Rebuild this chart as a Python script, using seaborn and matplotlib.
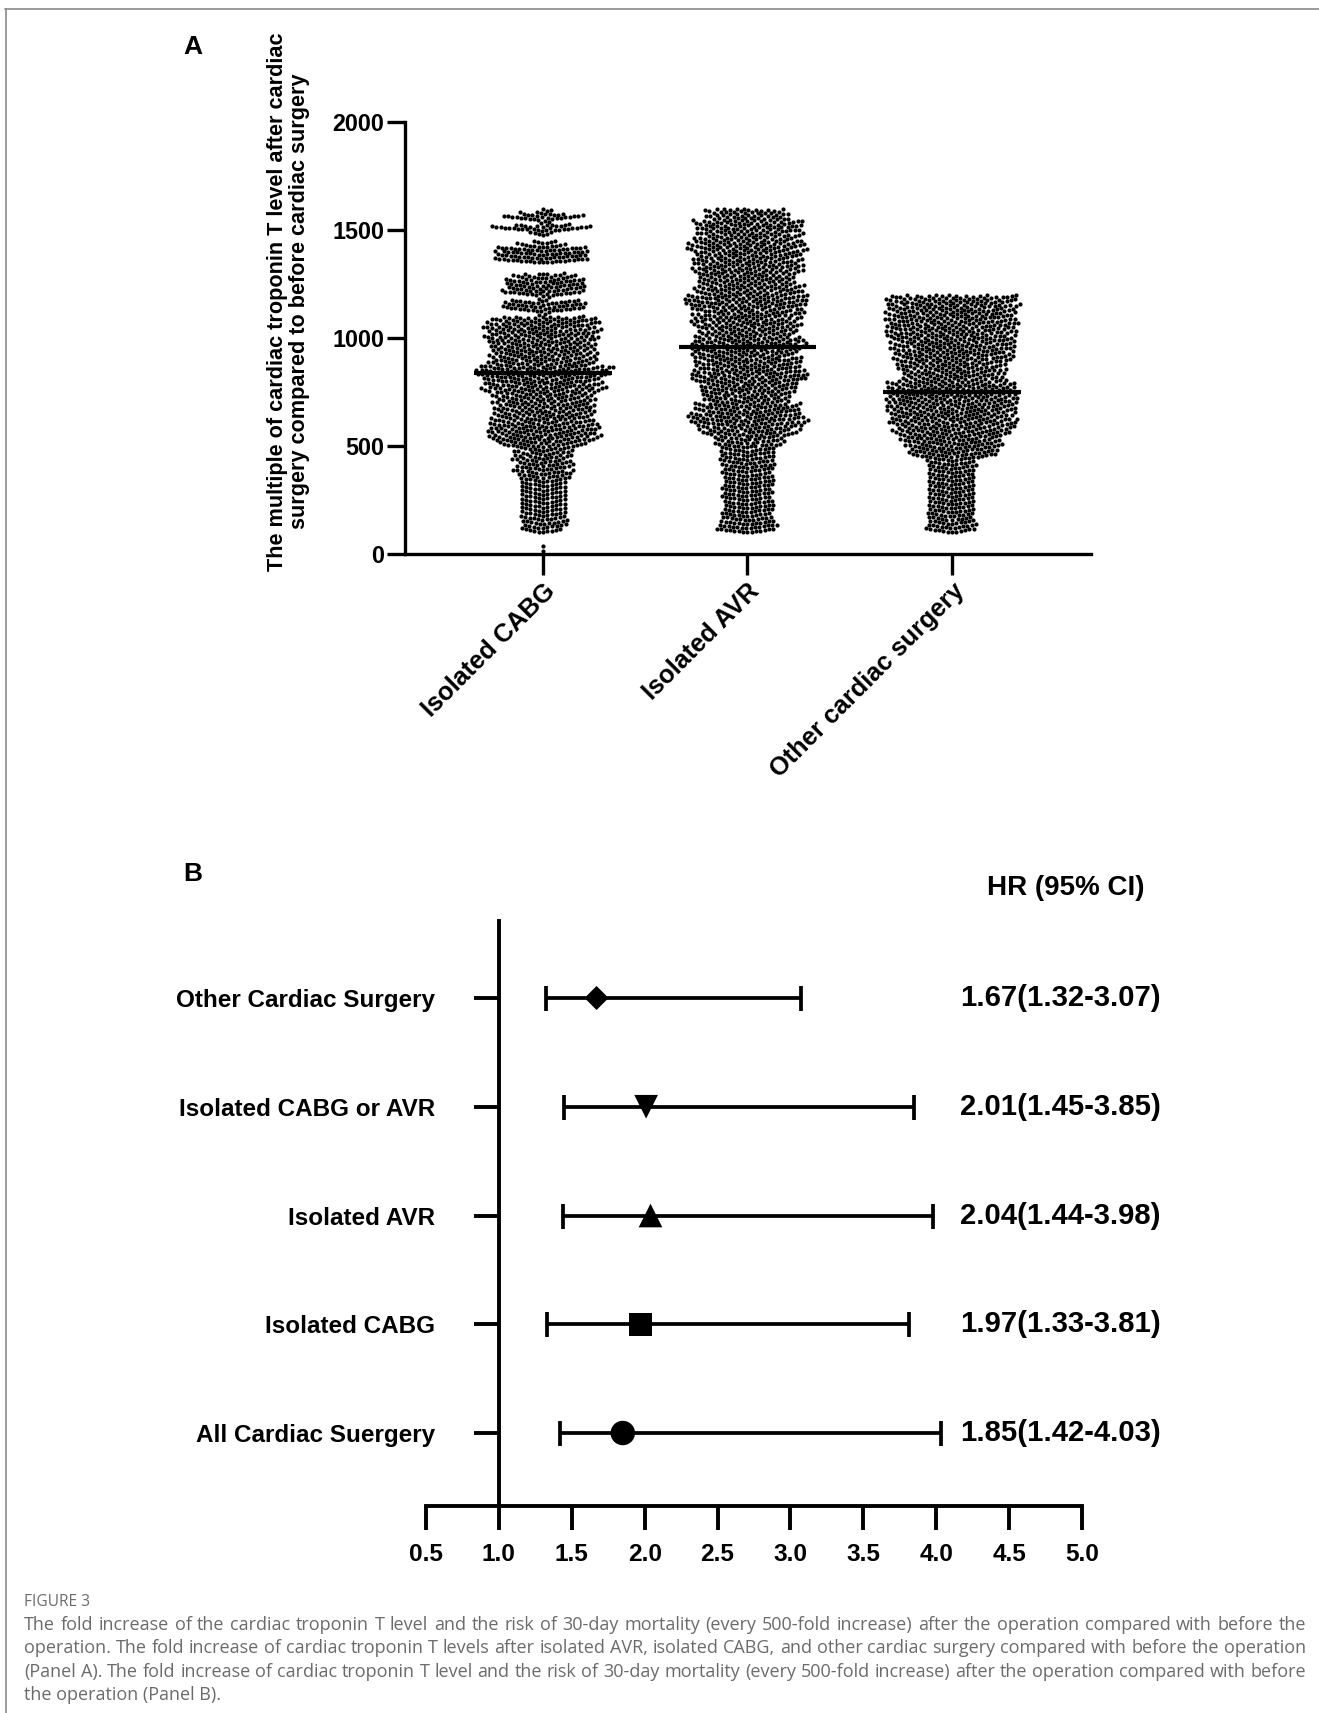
import warnings
warnings.filterwarnings("ignore")
import numpy as np
import pandas as pd
import matplotlib
matplotlib.use("Agg")
import matplotlib.pyplot as plt
import seaborn as sns
from matplotlib.lines import Line2D

# ---------------- Panel A data (counts per value bin) ----------------
categories = ["Isolated CABG", "Isolated AVR", "Other cardiac surgery"]

# Isolated CABG: 25-unit bins from 0 to 1600 (the group shows distinct bands)
cabg_bin_lower = list(range(0, 1600, 25))
cabg_bin_width = 25
cabg_counts = [1, 1, 0, 0, 13, 14, 14, 14, 14, 14,      # 0 - 250
               14, 14, 14, 14, 17, 18, 18, 18, 18, 18,   # 250 - 500
               28, 35, 35, 35, 31, 31, 31, 31, 31, 31,   # 500 - 750
               37, 37, 37, 42, 42, 33, 33, 33, 33, 33,   # 750 - 1000
               35, 35, 35, 35, 3, 27, 27, 5, 26, 26,     # 1000 - 1250
               26, 20, 0, 0, 30, 30, 30, 13, 0, 8,       # 1250 - 1500
               32, 5, 27, 6]                             # 1500 - 1600

# Isolated AVR and Other cardiac surgery: 50-unit bins from 0 to 1600
bin_lower = list(range(0, 1600, 50))
bin_width = 50
avr_counts = [0, 0, 38, 32, 32, 32, 32, 32, 34, 34,
              42, 60, 72, 66, 54, 60, 72, 66, 66, 70,
              60, 66, 66, 76, 66, 60, 68, 66, 72, 62,
              66, 50]
other_counts = [0, 0, 31, 30, 30, 30, 30, 30, 31, 58,
                63, 73, 78, 80, 82, 80, 63, 67, 75, 77,
                79, 80, 80, 80, 0, 0, 0, 0, 0, 0,
                0, 0]
group_means = [840, 960, 750]
y_ticks_A = [0, 500, 1000, 1500, 2000]
y_label_A = ("The multiple of cardiac troponin T level after cardiac\n"
             "surgery compared to before cardiac surgery")

# ---------------- Panel B data ----------------
forest_labels = ["Other Cardiac Surgery", "Isolated CABG or AVR", "Isolated AVR",
                 "Isolated CABG", "All Cardiac Suergery"]
hr = [1.67, 2.01, 2.04, 1.97, 1.85]
ci_low = [1.32, 1.45, 1.44, 1.33, 1.42]
ci_high = [3.07, 3.85, 3.98, 3.81, 4.03]
hr_text = ["1.67(1.32-3.07)", "2.01(1.45-3.85)", "2.04(1.44-3.98)",
           "1.97(1.33-3.81)", "1.85(1.42-4.03)"]
forest_markers = ["D", "v", "^", "s", "o"]
forest_sizes = [150, 290, 290, 275, 310]
x_ticks_B = [0.5, 1.0, 1.5, 2.0, 2.5, 3.0, 3.5, 4.0, 4.5, 5.0]

caption_title = "FIGURE 3"
caption_lines = [
    "The fold increase of the cardiac troponin T level and the risk of 30-day mortality (every 500-fold increase) after the operation compared with before the",
    "operation. The fold increase of cardiac troponin T levels after isolated AVR, isolated CABG, and other cardiac surgery compared with before the operation",
    "(Panel A). The fold increase of cardiac troponin T level and the risk of 30-day mortality (every 500-fold increase) after the operation compared with before",
    "the operation (Panel B).",
]

# ---------------- build long table from the histogram counts ----------------
rows = []
group_bins = [(cabg_bin_lower, cabg_bin_width, cabg_counts),
              (bin_lower, bin_width, avr_counts),
              (bin_lower, bin_width, other_counts)]
for cat, (lowers, bw, counts) in zip(categories, group_bins):
    for lo, c in zip(lowers, counts):
        for k in range(c):
            rows.append((cat, lo + (k + 0.5) * bw / c))
dfA = pd.DataFrame(rows, columns=["group", "value"])

dfB = pd.DataFrame({"label": forest_labels, "hr": hr, "lo": ci_low, "hi": ci_high,
                    "row": np.arange(len(forest_labels), 0, -1)})

# ---------------- style ----------------
sns.set_theme(style="white")
plt.rcParams["font.family"] = ["Liberation Sans", "DejaVu Sans"]
plt.rcParams["font.weight"] = "bold"
plt.rcParams["axes.edgecolor"] = "black"
plt.rcParams["xtick.color"] = "black"
plt.rcParams["ytick.color"] = "black"
plt.rcParams["text.color"] = "black"

W, H = 1319, 1713
fig = plt.figure(figsize=(W / 100, H / 100), dpi=100)
fig.patch.set_facecolor("white")


def fx(px):
    return px / W


def fy(py):
    return 1 - py / H


# ---------------- Panel A ----------------
axA = fig.add_axes([fx(405), fy(554), (1091 - 405) / W, (554 - 122) / H])
axA.set_xlim(-0.675, 2.68)
axA.set_ylim(0, 2000)
sns.swarmplot(data=dfA, x="group", y="value", order=categories, color="black",
              size=3.0, linewidth=0, ax=axA)
axA.set_xlim(-0.675, 2.68)
axA.set_ylim(0, 2000)
axA.hlines(group_means, np.arange(3) - 0.337, np.arange(3) + 0.337,
           color="black", lw=3.0, zorder=5)
for s in ["top", "right"]:
    axA.spines[s].set_visible(False)
for s in ["left", "bottom"]:
    axA.spines[s].set_linewidth(2.4)
    axA.spines[s].set_color("black")
axA.set_yticks(y_ticks_A)
axA.set_yticklabels([str(v) for v in y_ticks_A], fontsize=16.8, fontweight="bold")
axA.set_xticks(range(3))
axA.set_xticklabels(categories, fontsize=18.3, fontweight="bold",
                    rotation=45, ha="right", rotation_mode="anchor")
axA.tick_params(axis="y", direction="out", length=13, width=2.4, pad=2, left=True)
axA.tick_params(axis="x", direction="out", length=15, width=2.4, pad=3, bottom=True)
axA.set_xlabel("")
axA.set_ylabel("")
fig.text(fx(288.5), fy(301.5), y_label_A, rotation=90, ha="center", va="center",
         multialignment="center", fontsize=15.6, fontweight="bold", linespacing=1.1)
fig.text(fx(193), fy(47), "A", fontsize=19, fontweight="bold", ha="center", va="center")

# ---------------- Panel B ----------------
axB = fig.add_axes([fx(426), fy(1506), (1082 - 426) / W, (1506 - 921) / H])
axB.errorbar(dfB["hr"], dfB["row"], xerr=[dfB["hr"] - dfB["lo"], dfB["hi"] - dfB["hr"]],
             fmt="none", ecolor="black", elinewidth=2.7, capsize=9, capthick=2.7, zorder=2)
sns.scatterplot(data=dfB, x="hr", y="row", style="label",
                markers=dict(zip(forest_labels, forest_markers)),
                size="label", sizes=dict(zip(forest_labels, forest_sizes)),
                color="black", edgecolor="black", linewidth=0, legend=False,
                ax=axB, zorder=3)
axB.set_xlim(0.5, 5.0)
axB.set_ylim(0.329, 5.708)
axB.spines["top"].set_visible(False)
axB.spines["right"].set_visible(False)
axB.spines["left"].set_position(("data", 1.0))
for s in ["left", "bottom"]:
    axB.spines[s].set_linewidth(2.8)
    axB.spines[s].set_color("black")
axB.set_xticks(x_ticks_B)
axB.set_xticklabels([f"{v:.1f}" for v in x_ticks_B], fontsize=17.6, fontweight="bold")
axB.set_yticks(dfB["row"])
axB.set_yticklabels(forest_labels, fontsize=17.5, fontweight="bold")
axB.tick_params(axis="x", direction="out", length=17, width=2.8, pad=9.4, bottom=True)
axB.tick_params(axis="y", direction="out", length=18, width=2.8, pad=28, left=True)
axB.set_xlabel("")
axB.set_ylabel("")
for r, t in zip(dfB["row"], hr_text):
    axB.text(4.163, r, t, ha="left", va="center", fontsize=21.1, fontweight="bold",
             clip_on=False)
axB.text(4.89, 6.01, "HR (95% CI)", ha="center", va="center", fontsize=20,
         fontweight="bold", clip_on=False)
fig.text(fx(193), fy(874), "B", fontsize=19, fontweight="bold", ha="center", va="center")

# ---------------- caption (justified like the reference) ----------------
cap_color = "#6b6b6b"
cap_family = ["Open Sans", "DejaVu Sans"]
cap_left, cap_width = 24, 1282
renderer = fig.canvas.get_renderer()


def text_width(s, size):
    t = fig.text(0, 0, s, fontsize=size, family=cap_family, fontweight="normal")
    w = t.get_window_extent(renderer).width
    t.remove()
    return w


base = 12
max_w = max(text_width(l, base) for l in caption_lines[:3])
cap_size = base * cap_width / max_w * 0.995
line_ys = [1625 + i * 23.4 for i in range(len(caption_lines))]
for i, (line, ly) in enumerate(zip(caption_lines, line_ys)):
    if i == len(caption_lines) - 1:
        fig.text(fx(cap_left), fy(ly), line, fontsize=cap_size, color=cap_color,
                 family=cap_family, fontweight="normal", ha="left", va="center")
        continue
    words = line.split(" ")
    widths = [text_width(wd, cap_size) for wd in words]
    gap = (cap_width - sum(widths)) / (len(words) - 1)
    xpos = cap_left
    for wd, ww in zip(words, widths):
        fig.text(fx(xpos), fy(ly), wd, fontsize=cap_size, color=cap_color,
                 family=cap_family, fontweight="normal", ha="left", va="center")
        xpos += ww + gap
title_size = 10 * 66 / text_width(caption_title, 10)
fig.text(fx(cap_left), fy(1602), caption_title, fontsize=title_size, color=cap_color,
         family=cap_family, fontweight="normal", ha="left", va="center")

# ---------------- page border ----------------
fig.add_artist(Line2D([fx(5), 1], [fy(8.5), fy(8.5)], color="#8a8a8a", lw=1.2,
                      transform=fig.transFigure))
fig.add_artist(Line2D([fx(5.5), fx(5.5)], [fy(8.5), 0], color="#8a8a8a", lw=1.2,
                      transform=fig.transFigure))

fig.savefig("out.png", dpi=100, facecolor="white")
